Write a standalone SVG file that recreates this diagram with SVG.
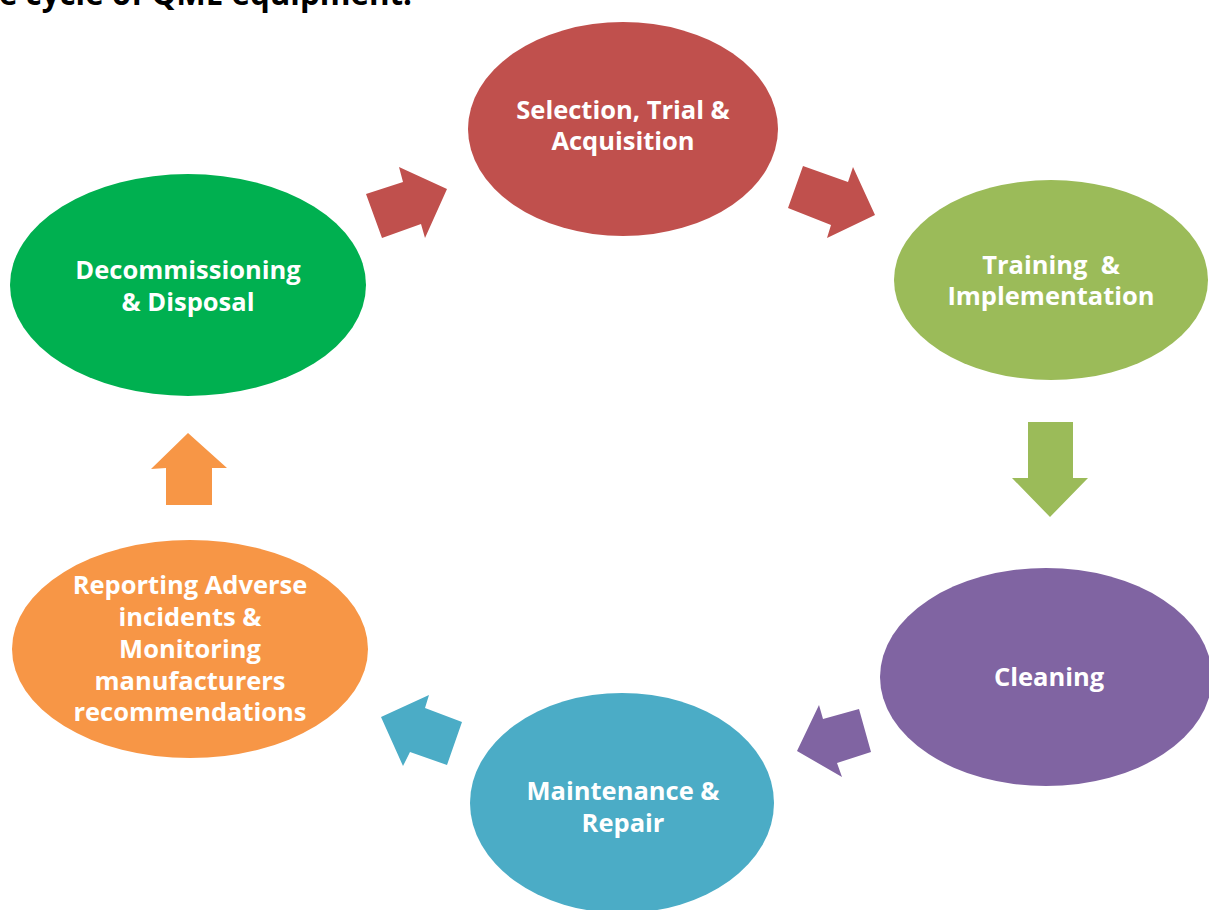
<svg xmlns="http://www.w3.org/2000/svg" width="1209" height="910" viewBox="0 0 1209 910">
  <style>
    .lbl { font-family: "Open Sans", "Noto Sans", "DejaVu Sans", sans-serif; font-weight: 700; font-size: 25.5px; fill: #ffffff; text-anchor: middle; }
    .title { font-family: "Open Sans", "Noto Sans", "DejaVu Sans", sans-serif; font-weight: 700; font-size: 31.3px; fill: #000000; }
  </style>
  <rect width="1209" height="910" fill="#ffffff"/>

  <text class="title" x="-1" y="5">e cycle of QME equipment.</text>

  <!-- stage ellipses -->
  <g id="selection">
    <ellipse cx="623" cy="129" rx="155" ry="107" fill="#C0504D"/>
    <text class="lbl" x="623" y="119">Selection, Trial &amp;</text>
    <text class="lbl" x="623" y="150">Acquisition</text>
  </g>
  <g id="training">
    <ellipse cx="1051" cy="280" rx="157" ry="100" fill="#9BBB59"/>
    <text class="lbl" x="1051" y="274" xml:space="preserve">Training  &amp;</text>
    <text class="lbl" x="1051" y="305">Implementation</text>
  </g>
  <g id="cleaning">
    <ellipse cx="1046" cy="677" rx="166" ry="109" fill="#8064A2"/>
    <text class="lbl" x="1049" y="686">Cleaning</text>
  </g>
  <g id="maintenance">
    <ellipse cx="622" cy="803" rx="152" ry="110" fill="#4BACC6"/>
    <text class="lbl" x="623" y="800">Maintenance &amp;</text>
    <text class="lbl" x="623" y="832">Repair</text>
  </g>
  <g id="reporting">
    <ellipse cx="190" cy="649" rx="178" ry="109" fill="#F79646"/>
    <text class="lbl" x="190" y="594">Reporting Adverse</text>
    <text class="lbl" x="190" y="626">incidents &amp;</text>
    <text class="lbl" x="190" y="658">Monitoring</text>
    <text class="lbl" x="190" y="690">manufacturers</text>
    <text class="lbl" x="190" y="721">recommendations</text>
  </g>
  <g id="decommissioning">
    <ellipse cx="188" cy="285" rx="178" ry="111" fill="#00B050"/>
    <text class="lbl" x="188" y="279">Decommissioning</text>
    <text class="lbl" x="188" y="311">&amp; Disposal</text>
  </g>

  <!-- block arrows between stages -->
  <g id="connectors">
    <polygon points="366,194 403,182 399,167 447,189 425,238 421,224 382,238" fill="#C0504D"/>
    <polygon points="803,166 848,182 853,167 875,215 827,238 831,225 788,208" fill="#C0504D"/>
    <polygon points="1028,422 1073,422 1073,478 1088,478 1050,517 1012,478 1028,478" fill="#9BBB59"/>
    <polygon points="859,709 871,752 837,763 842,777 797,751 819,705 823,719" fill="#8064A2"/>
    <polygon points="462,722 447,765 410,752 403,766 381,717 429,695 425,708" fill="#4BACC6"/>
    <polygon points="188,433 227,468 212,468 212,505 166,505 166,468 151,469" fill="#F79646"/>
  </g>
</svg>
